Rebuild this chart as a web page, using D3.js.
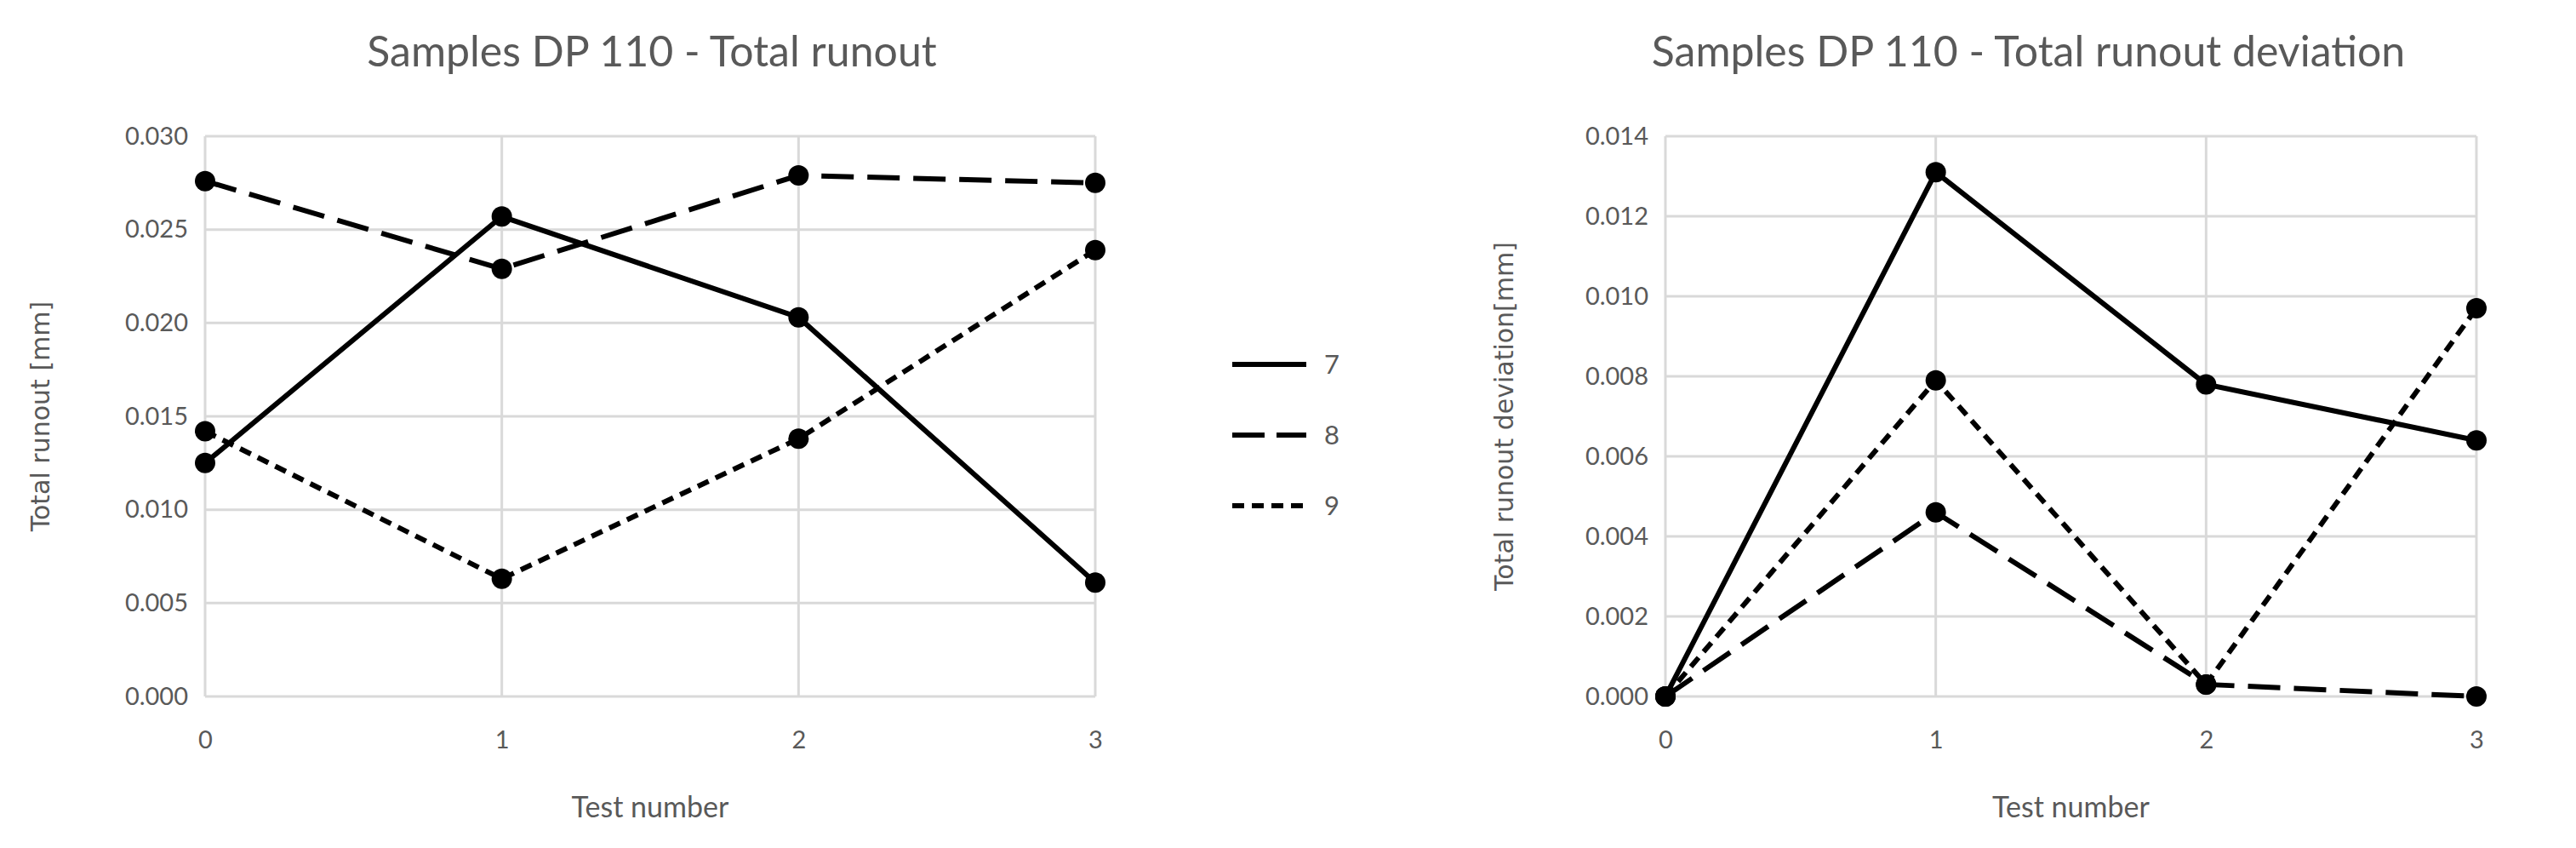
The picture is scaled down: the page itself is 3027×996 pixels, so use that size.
<!DOCTYPE html>
<html><head><meta charset="utf-8">
<script src="https://cdn.jsdelivr.net/npm/d3@7"></script>
<style>body{margin:0;background:#fff}</style>
</head><body>
<svg id="chart" width="3027" height="996"></svg>
<script>
var tests = [0, 1, 2, 3];
var seriesNames = ["7", "8", "9"];
var runout7 = [0.0125, 0.0257, 0.0203, 0.0061];
var runout8 = [0.0276, 0.0229, 0.0279, 0.0275];
var runout9 = [0.0142, 0.0063, 0.0138, 0.0239];
var dev7 = [0, 0.0131, 0.0078, 0.0064];
var dev8 = [0, 0.0046, 0.0003, 0.0000];
var dev9 = [0, 0.0079, 0.0003, 0.0097];
var runoutTicks = [0, 0.005, 0.010, 0.015, 0.020, 0.025, 0.030];
var devTicks = [0, 0.002, 0.004, 0.006, 0.008, 0.010, 0.012, 0.014];

var dashes = ["none", "38,16", "14,9"];
var TXT_COL = "#595959";
var GRID_COL = "#d9d9d9";
var TICK_FONT = "Lato, 'Open Sans', sans-serif";

var svg = d3.select("#chart");

function draw_panel(opt) {
    var x = d3.scaleLinear().domain([0, 3]).range([opt.x0, opt.x1]);
    var y = d3.scaleLinear().domain([0, d3.max(opt.ticks)]).range([818, 160]);
    var g = svg.append("g");

    // grid
    g.selectAll(".hg").data(opt.ticks).enter().append("line")
        .attr("x1", opt.x0).attr("x2", opt.x1)
        .attr("y1", d => y(d)).attr("y2", d => y(d))
        .style("stroke", GRID_COL).style("stroke-width", 3);
    g.selectAll(".vg").data(tests).enter().append("line")
        .attr("x1", d => x(d)).attr("x2", d => x(d))
        .attr("y1", y(0)).attr("y2", y(d3.max(opt.ticks)))
        .style("stroke", GRID_COL).style("stroke-width", 3);

    var yAxis = d3.axisLeft(y).tickValues(opt.ticks).tickFormat(d3.format(".3f")).tickSize(0).tickPadding(20);
    var xAxis = d3.axisBottom(x).tickValues(tests).tickFormat(d3.format("d")).tickSize(0).tickPadding(40);

    g.append("g").attr("transform", "translate(" + opt.x0 + ",0)").call(yAxis)
        .call(a => a.select(".domain").remove())
        .selectAll("text").style("font-size", "29px").style("font-family", TICK_FONT).style("fill", TXT_COL);
    g.append("g").attr("transform", "translate(0," + y(0) + ")").call(xAxis)
        .call(a => a.select(".domain").remove())
        .selectAll("text").style("font-size", "29px").style("font-family", TICK_FONT).style("fill", TXT_COL);

    var line = d3.line().x((d, i) => x(tests[i])).y(d => y(d));
    opt.series.forEach(function(s, k) {
        g.append("path").datum(s).attr("d", line)
            .style("fill", "none").style("stroke", "#000").style("stroke-width", 6)
            .style("stroke-dasharray", dashes[k]);
        g.selectAll(".pt" + k).data(s).enter().append("circle")
            .attr("cx", (d, i) => x(tests[i])).attr("cy", d => y(d)).attr("r", 12)
            .style("fill", "#000");
    });

    svg.append("text").attr("x", (opt.x0 + opt.x1) / 2 + opt.titleDx).attr("y", 78)
        .attr("text-anchor", "middle").text(opt.title)
        .style("font-family", TICK_FONT).style("font-size", "50px").style("fill", TXT_COL);
    svg.append("text").attr("x", (opt.x0 + opt.x1) / 2).attr("y", 960)
        .attr("text-anchor", "middle").text("Test number")
        .style("font-family", TICK_FONT).style("font-size", "34px").style("fill", TXT_COL);
    svg.append("text").attr("transform", "translate(" + opt.yLabX + "," + (y(0) + y(d3.max(opt.ticks))) / 2 + ") rotate(-90)")
        .attr("text-anchor", "middle").text(opt.yLabel)
        .style("font-family", "'DejaVu Sans', Verdana, sans-serif").style("font-size", "30px").style("fill", TXT_COL);
}

draw_panel({x0: 241, x1: 1287, ticks: runoutTicks, series: [runout7, runout8, runout9],
    title: "Samples DP 110 - Total runout", titleDx: 2, yLabel: "Total runout [mm]", yLabX: 58});
draw_panel({x0: 1957, x1: 2910, ticks: devTicks, series: [dev7, dev8, dev9],
    title: "Samples DP 110 - Total runout deviation", titleDx: -50, yLabel: "Total runout deviation[mm]", yLabX: 1778});

// legend
var leg = svg.append("g");
seriesNames.forEach(function(n, k) {
    var ly = 428 + k * 83;
    leg.append("line").attr("x1", 1448).attr("x2", 1535).attr("y1", ly).attr("y2", ly)
        .style("stroke", "#000").style("stroke-width", 6).style("stroke-dasharray", k == 1 ? "38,14" : dashes[k]);
    leg.append("text").attr("x", 1556).attr("y", ly + 11).text(n)
        .style("font-family", TICK_FONT).style("font-size", "31px").style("fill", TXT_COL);
});
</script>
</body></html>
